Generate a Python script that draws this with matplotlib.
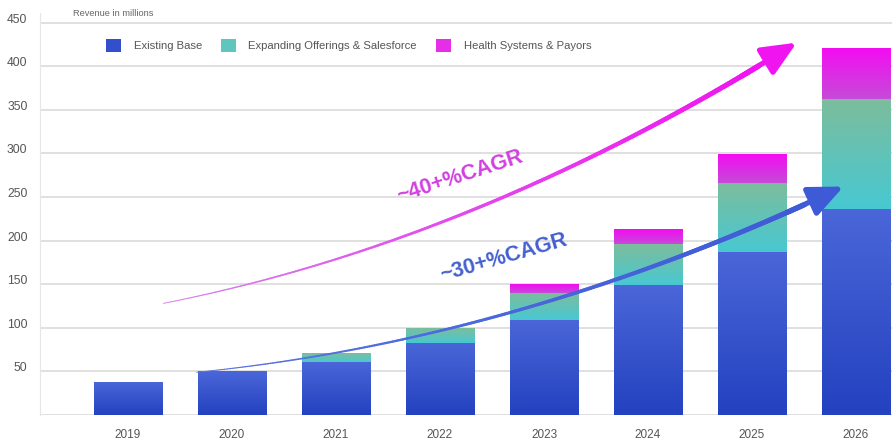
import numpy as np
import matplotlib
matplotlib.use('Agg')
import matplotlib.pyplot as plt
from matplotlib.colors import LinearSegmentedColormap
from matplotlib.patches import Patch
from matplotlib.collections import LineCollection

plt.rcParams['font.family'] = ['Liberation Sans', 'DejaVu Sans']

# ---- data ----
years = ['2019', '2020', '2021', '2022', '2023', '2024', '2025', '2026']
existing = [38, 50, 61, 83, 109, 149, 187, 236]
expanding = [0, 0, 10, 17, 31, 47, 79, 126]
health = [0, 0, 0, 0, 10, 17, 33, 59]
series_names = ['Existing Base', 'Expanding Offerings & Salesforce', 'Health Systems & Payors']
yticks = [0, 50, 100, 150, 200, 250, 300, 350, 400, 450]
ytick_labels = ['', '50', '100', '150', '200', '250', '300', '350', '400', '450']

# growth arrows (quadratic curves: start, control, tip) in data units
arrow40 = [(0.34, 128), (3.39, 200), (6.43, 427)]
arrow30 = [(0.66, 49), (3.77, 86), (6.88, 262)]
label40 = (3.19, 274, '~40+%CAGR')
label30 = (3.61, 180, '~30+%CAGR')

# ---- styles ----
grad_colors = [('#2442c0', '#4a66d8'),   # bottom, top
               ('#48c8d2', '#7cbd9c'),
               ('#c64ad9', '#f40cf2')]
legend_colors = ['#3350cc', '#5fc6bf', '#e62ee8']
bar_w = 0.655

fig = plt.figure(figsize=(8.92, 4.42), dpi=100)
ax = fig.add_axes([40 / 892, (442 - 415) / 442, (892 - 40) / 892, (415 - 13) / 442])

x = np.arange(len(years))
bottoms = np.zeros(len(years))
for vals, (cb, ct) in zip([existing, expanding, health], grad_colors):
    vals = np.array(vals, dtype=float)
    cmap = LinearSegmentedColormap.from_list('g', [cb, ct])
    bars = ax.bar(x, vals, bar_w, bottom=bottoms, color=ct, edgecolor='none', zorder=2)
    for b, v in zip(bars, vals):
        if v <= 0:
            b.set_visible(False)
            continue
        x0, y0 = b.get_x(), b.get_y()
        im = ax.imshow(np.linspace(0, 1, 64).reshape(-1, 1), extent=[x0, x0 + b.get_width(), y0, y0 + b.get_height()],
                       origin='lower', aspect='auto', cmap=cmap, zorder=2.5, interpolation='bilinear')
        im.set_clip_path(b)
    bottoms += vals

ax.set_xlim(-0.846, 7.346)
ax.set_ylim(0, 461)


def draw_arrow(pts3, c0, c1, lw0, lw1):
    P0, P1, P2 = [np.array(p, dtype=float) for p in pts3]
    t = np.linspace(0, 0.94, 240)[:, None]
    pts = (1 - t) ** 2 * P0 + 2 * (1 - t) * t * P1 + t ** 2 * P2
    segs = np.stack([pts[:-1], pts[1:]], axis=1)
    cm = LinearSegmentedColormap.from_list('a', [c0, c1])
    s = np.linspace(0, 1, len(segs))
    lc = LineCollection(segs, colors=cm(s), linewidths=lw0 + (lw1 - lw0) * s,
                        capstyle='round', zorder=5)
    ax.add_collection(lc)
    ax.annotate('', xy=tuple(P2), xytext=tuple(pts[-8]),
                arrowprops=dict(arrowstyle='-|>,head_length=1.4,head_width=0.62',
                                mutation_scale=15, color=c1, lw=lw1,
                                shrinkA=0, shrinkB=0), zorder=6)


draw_arrow(arrow40, '#d680ec', '#f014f0', 0.6, 3.8)
draw_arrow(arrow30, '#5a74e0', '#3e5ad6', 0.6, 3.8)

ax.text(label40[0], label40[1], label40[2], rotation=18, ha='center', va='center',
        fontsize=15.5, fontweight='bold', color='#d040e0', zorder=7)
ax.text(label30[0], label30[1], label30[2], rotation=16, ha='center', va='center',
        fontsize=15.5, fontweight='bold', color='#4460d0', zorder=7)

# axes styling
ax.set_xticks(x)
ax.set_xticklabels(years)
ax.set_yticks(yticks)
ax.set_yticklabels(ytick_labels, va='baseline')
ax.tick_params(axis='x', length=0, pad=10, labelsize=8.5, labelcolor='#555555')
ax.tick_params(axis='y', length=0, pad=9, labelsize=8.7, labelcolor='#555555')
ax.yaxis.grid(True, color='#dddddd', lw=1.3)
ax.set_axisbelow(True)
for sp in ['top', 'right', 'bottom']:
    ax.spines[sp].set_visible(False)
ax.spines['left'].set_color('#e6e6e6')

fig.text(73 / 892, 1 - 13 / 442, 'Revenue in millions', fontsize=6.7, color='#666666', va='center')

handles = [Patch(facecolor=c, edgecolor='none') for c in legend_colors]
fig.legend(handles, series_names, loc='upper left', bbox_to_anchor=(106 / 892, 1 - 39 / 442),
           ncol=3, frameon=False, fontsize=8.1, handlelength=1.35, handleheight=1.35,
           handletextpad=1.1, columnspacing=1.7, labelcolor='#555555',
           borderpad=0, borderaxespad=0)

fig.savefig('out.png', dpi=100)
